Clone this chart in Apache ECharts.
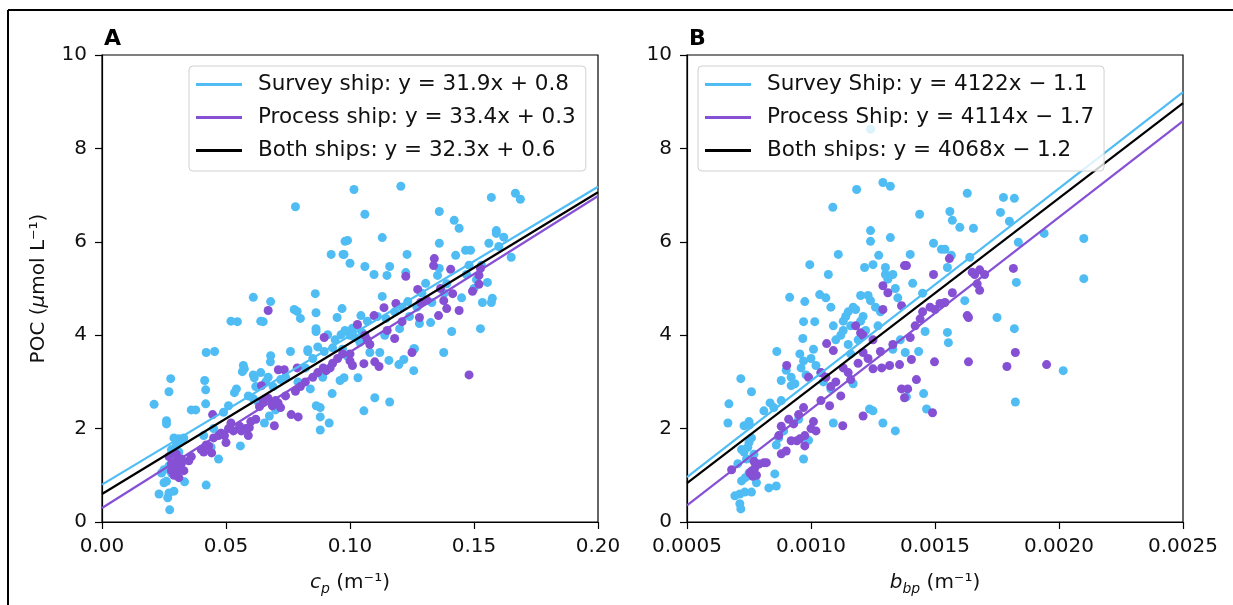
<!DOCTYPE html>
<html>
<head>
<meta charset="utf-8">
<script src="https://cdn.jsdelivr.net/npm/echarts@6/dist/echarts.min.js"></script>
<style>
  html, body { margin: 0; padding: 0; background: #fff; }
  #chart { width: 1233px; height: 605px; }
</style>
</head>
<body>
<div id="chart"></div>
<script>
// panel A: POC vs c_p
const surveyA = [
  [0.021,2.52],[0.023,0.60],[0.024,1.05],[0.025,0.84],[0.026,0.87],[0.0265,0.52],[0.027,0.62],[0.029,0.66],
  [0.0273,0.26],[0.026,2.17],[0.026,2.10],[0.027,2.79],[0.0277,3.07],[0.028,1.55],[0.029,1.80],[0.031,1.78],
  [0.032,1.74],[0.030,1.65],[0.033,1.80],[0.0333,0.86],[0.031,1.50],[0.027,1.20],[0.028,1.05],[0.025,1.12],
  [0.036,2.40],[0.0378,2.40],[0.0414,3.03],[0.0418,2.83],[0.042,3.63],[0.0454,3.65],[0.0418,2.53],[0.041,1.85],
  [0.042,0.79],[0.047,1.35],[0.044,1.60],[0.045,2.0],[0.049,2.35],[0.051,2.49],[0.048,1.9],[0.052,4.30],
  [0.0534,2.77],[0.0542,2.85],[0.0546,4.29],[0.0558,1.63],[0.057,3.35],[0.0574,3.28],[0.0566,3.22],[0.061,3.15],
  [0.0614,3.09],[0.061,2.64],[0.063,2.57],[0.061,4.81],[0.064,4.30],[0.065,4.29],[0.0655,2.12],[0.0675,2.27],
  [0.068,3.56],[0.0679,3.43],[0.068,4.72],[0.066,3.0],[0.067,3.1],[0.069,2.9],[0.070,2.4],[0.062,2.9],
  [0.059,2.7],[0.064,3.2],[0.072,3.05],[0.074,3.1],[0.0775,4.55],[0.078,6.75],[0.0787,4.51],[0.080,4.36],
  [0.076,3.65],[0.083,3.65],[0.083,3.69],[0.086,4.89],[0.0863,4.48],[0.0863,4.14],[0.0863,4.08],[0.0864,2.49],
  [0.088,2.45],[0.088,2.25],[0.088,1.97],[0.0916,2.12],[0.0896,3.65],[0.091,4.01],[0.0924,5.73],[0.0928,2.75],
  [0.093,3.73],[0.079,3.0],[0.082,3.3],[0.085,3.5],[0.087,3.75],[0.084,2.85],[0.089,3.1],[0.0948,4.38],
  [0.0968,4.57],[0.0964,4.01],[0.0972,5.73],[0.098,6.01],[0.0976,3.09],[0.096,3.03],[0.099,6.03],[0.0976,5.73],
  [0.100,5.54],[0.1016,7.12],[0.1032,3.09],[0.1044,4.42],[0.106,6.59],[0.106,5.47],[0.1056,2.38],[0.098,4.1],
  [0.100,4.0],[0.101,4.15],[0.102,3.95],[0.103,4.2],[0.104,3.85],[0.105,4.05],[0.108,3.63],[0.1097,5.30],
  [0.110,2.66],[0.107,4.3],[0.094,3.9],[0.097,3.7],[0.099,3.55],[0.112,3.63],[0.113,6.09],[0.113,4.83],
  [0.1145,4.36],[0.1149,5.28],[0.1157,3.46],[0.116,5.47],[0.116,2.57],[0.1197,3.37],[0.1205,7.19],[0.120,4.14],
  [0.1217,3.48],[0.1225,5.34],[0.1233,4.72],[0.123,5.73],[0.1257,3.71],[0.1257,3.24],[0.126,3.71],[0.128,4.25],
  [0.1305,5.11],[0.1325,4.27],[0.111,4.4],[0.114,4.0],[0.118,4.5],[0.121,4.6],[0.124,4.4],[0.127,4.6],
  [0.129,4.9],[0.1353,5.28],[0.136,6.65],[0.136,5.97],[0.136,5.43],[0.1378,3.63],[0.141,4.08],[0.142,6.46],
  [0.1426,5.71],[0.144,6.29],[0.1466,5.82],[0.1486,5.82],[0.147,5.30],[0.151,5.19],[0.1534,4.70],[0.1526,4.14],
  [0.1554,5.13],[0.156,5.97],[0.157,6.95],[0.1574,4.79],[0.157,4.70],[0.159,6.24],[0.159,6.18],[0.165,5.67],
  [0.1667,7.04],[0.1687,6.91],[0.133,4.7],[0.138,4.9],[0.139,5.1],[0.145,4.8],[0.148,5.5],[0.150,5.0],
  [0.153,5.5],[0.160,5.9],[0.162,6.1]
]
const processA = [
  [0.028,1.10],[0.029,1.00],[0.029,1.20],[0.030,1.30],[0.030,1.05],[0.031,1.15],[0.031,0.95],[0.032,1.25],
  [0.032,1.35],[0.033,1.10],[0.030,1.45],[0.028,1.25],[0.035,1.31],[0.036,1.40],[0.027,1.40],[0.040,1.55],
  [0.041,1.50],[0.042,1.65],[0.043,1.63],[0.0442,1.48],[0.0446,2.30],[0.045,1.80],[0.047,1.85],[0.048,1.90],
  [0.0494,1.85],[0.050,1.70],[0.051,2.0],[0.052,2.12],[0.053,1.95],[0.0555,2.05],[0.0562,1.95],[0.058,2.0],
  [0.0594,2.02],[0.059,1.85],[0.060,2.15],[0.062,2.20],[0.0635,2.47],[0.0643,2.92],[0.065,2.60],[0.067,2.65],
  [0.0687,2.49],[0.0695,2.06],[0.067,4.53],[0.070,2.60],[0.071,2.55],[0.072,2.45],[0.0711,3.26],[0.0735,3.26],
  [0.074,2.7],[0.0763,2.30],[0.0791,2.25],[0.0787,3.30],[0.078,2.8],[0.080,2.9],[0.082,3.0],[0.0892,3.30],
  [0.0904,3.24],[0.0896,3.95],[0.085,3.1],[0.087,3.2],[0.092,3.3],[0.093,3.4],[0.095,3.5],[0.097,3.6],
  [0.100,3.45],[0.100,3.6],[0.101,3.35],[0.103,4.23],[0.1056,3.39],[0.110,3.43],[0.1117,3.33],[0.1097,4.42],
  [0.1137,4.59],[0.1185,4.68],[0.118,3.93],[0.121,4.29],[0.125,3.63],[0.1225,5.26],[0.1273,4.98],[0.1285,4.70],
  [0.128,4.38],[0.131,4.75],[0.134,5.64],[0.1337,5.49],[0.1357,4.42],[0.1365,5.00],[0.1378,4.74],[0.139,4.57],
  [0.1406,5.41],[0.1414,4.89],[0.144,4.53],[0.148,3.15],[0.1494,4.94],[0.152,5.28],[0.152,5.09],[0.1526,5.43],
  [0.106,4.0],[0.108,3.8],[0.115,4.1],[0.107,3.9]
]
const fitNamesA = ['Survey ship: y = 31.9x + 0.8', 'Process ship: y = 33.4x + 0.3', 'Both ships: y = 32.3x + 0.6']
const fitSlopesA = [31.9, 33.4, 32.3]
const fitInterceptsA = [0.8, 0.3, 0.6]

// panel B: POC vs b_bp
const surveyB = [
  [0.000693,0.56],[0.000713,0.60],[0.000733,0.64],[0.00076,0.64],[0.000713,0.39],[0.000717,0.28],[0.00078,0.84],
  [0.00083,0.73],[0.00086,0.77],[0.000854,1.03],[0.000735,0.95],[0.00072,0.88],[0.00075,1.05],[0.000705,1.25],
  [0.00074,1.35],[0.00073,1.5],[0.000745,1.6],[0.00075,1.7],[0.00076,1.8],[0.00072,1.55],[0.00077,1.45],
  [0.000665,2.12],[0.000669,2.53],[0.00073,2.06],[0.00075,2.15],[0.000752,2.08],[0.000717,3.07],[0.00076,2.79],
  [0.00081,2.38],[0.000835,2.55],[0.00085,2.45],[0.00088,2.6],[0.00086,1.65],[0.00087,1.8],[0.00089,1.95],
  [0.000862,3.65],[0.00088,3.03],[0.00092,2.92],[0.000935,2.96],[0.0009,3.25],[0.00092,3.1],[0.000914,4.81],
  [0.000975,4.72],[0.000967,3.93],[0.00097,4.29],[0.000955,3.6],[0.00096,3.3],[0.00097,3.45],[0.00098,3.15],
  [0.00097,1.35],[0.00099,1.75],[0.00095,2.2],[0.000995,5.51],[0.001015,4.29],[0.001035,4.87],[0.001,3.5],
  [0.00101,3.7],[0.00102,3.35],[0.00104,3.2],[0.00105,3.0],[0.00109,4.2],[0.00109,2.12],[0.001088,6.74],
  [0.00111,5.73],[0.00108,2.85],[0.0011,3.9],[0.00112,4.0],[0.00113,4.1],[0.00113,4.3],[0.00114,4.4],
  [0.00115,4.5],[0.00115,3.8],[0.00116,4.2],[0.00116,3.6],[0.00117,4.6],[0.00117,2.96],[0.001184,7.12],
  [0.00118,4.55],[0.00119,3.9],[0.0012,4.85],[0.0012,4.3],[0.00121,4.4],[0.00122,4.1],[0.00123,4.85],
  [0.00124,4.74],[0.00124,6.24],[0.00124,6.01],[0.00124,8.41],[0.001236,2.42],[0.00125,2.38],[0.00125,5.51],
  [0.001216,5.45],[0.001273,5.71],[0.00129,7.27],[0.00132,7.19],[0.00132,6.09],[0.0013,5.45],[0.0013,5.30],
  [0.00126,4.6],[0.00127,4.2],[0.00128,4.5],[0.00129,2.12],[0.00134,1.95],[0.00131,5.2],[0.00133,5.3],
  [0.00134,5.0],[0.00135,4.8],[0.00133,3.7],[0.00136,3.9],[0.00138,3.63],[0.001385,2.68],[0.0014,5.73],
  [0.00141,5.11],[0.001438,6.59],[0.001434,3.65],[0.001454,2.75],[0.001466,2.42],[0.00146,4.08],[0.00145,4.9],
  [0.001494,5.97],[0.001526,5.84],[0.00154,5.84],[0.00155,5.45],[0.00155,4.06],[0.001554,3.84],[0.00156,6.65],
  [0.00157,6.46],[0.0016,6.31],[0.001566,5.71],[0.00163,7.04],[0.00164,5.67],[0.001655,6.29],[0.00162,4.74],
  [0.00175,4.38],[0.001764,6.63],[0.001776,6.95],[0.00182,6.93],[0.0018,6.44],[0.00182,4.14],[0.001836,5.99],
  [0.001828,5.13],[0.001824,2.57],[0.00194,6.18],[0.0021,6.07],[0.0021,5.21],[0.002017,3.24],[0.00106,4.8],
  [0.00108,4.6],[0.00107,5.3]
]
const processB = [
  [0.00068,1.12],[0.000754,1.05],[0.00076,1.09],[0.000774,1.16],[0.00079,1.24],[0.00081,1.27],[0.00082,1.27],
  [0.000765,0.98],[0.00077,1.3],[0.00078,1.0],[0.00088,1.46],[0.0009,1.52],[0.00092,1.74],[0.000943,1.74],
  [0.000955,1.78],[0.000975,1.85],[0.000975,1.63],[0.001,2.0],[0.00087,1.85],[0.00088,2.05],[0.00091,2.2],
  [0.00093,2.1],[0.00095,2.3],[0.00097,2.45],[0.000902,3.35],[0.00101,2.15],[0.00102,1.95],[0.00104,2.6],
  [0.001075,2.49],[0.001128,2.06],[0.00112,2.7],[0.001063,3.82],[0.00109,3.67],[0.00104,3.2],[0.00106,3.1],
  [0.00108,2.9],[0.0011,3.0],[0.00113,3.3],[0.00115,3.2],[0.00118,4.2],[0.0012,4.05],[0.00121,4.0],
  [0.00121,3.63],[0.00121,2.27],[0.00125,3.28],[0.001285,3.30],[0.001317,3.35],[0.001357,3.37],[0.001365,2.85],
  [0.001377,2.66],[0.00139,2.85],[0.001405,3.48],[0.0014,3.95],[0.001425,3.05],[0.00149,2.34],[0.001498,3.43],
  [0.001635,3.43],[0.001635,4.38],[0.001824,3.63],[0.00179,3.33],[0.00195,3.37],[0.00129,5.06],[0.00131,4.91],
  [0.001365,4.63],[0.00129,4.55],[0.001377,5.49],[0.001385,5.49],[0.001494,5.30],[0.001558,5.64],[0.00157,4.91],
  [0.00163,4.42],[0.00165,5.35],[0.00166,5.3],[0.00168,5.4],[0.0017,5.3],[0.00167,5.1],[0.00168,4.96],
  [0.001816,5.43],[0.00145,4.5],[0.00148,4.6],[0.0015,4.55],[0.00152,4.68],[0.00154,4.7],[0.00144,4.35],
  [0.00142,4.2],[0.00133,3.8],[0.00128,3.65],[0.00125,3.9],[0.00123,3.5],[0.00119,3.4],[0.00116,3.05],
  [0.00099,3.1]
]
const fitNamesB = ['Survey Ship: y = 4122x \u2212 1.1', 'Process Ship: y = 4114x \u2212 1.7', 'Both ships: y = 4068x \u2212 1.2']
const fitSlopesB = [4122, 4114, 4068]
const fitInterceptsB = [-1.1, -1.7, -1.2]

const xTicksA = [0, 0.05, 0.1, 0.15, 0.2]
const xTicksB = [0.0005, 0.001, 0.0015, 0.002, 0.0025]
const yTicks = [0, 2, 4, 6, 8, 10]

const blue = '#4fbdf4'
const purple = '#8650d4'
const lineColors = [blue, purple, '#000']
const font = 'DejaVu Sans'

const chart = echarts.init(document.getElementById('chart'))

function fitLine(name, slope, icpt, x0, x1, idx, color) {
  return {
    name: name,
    type: 'line',
    xAxisIndex: idx,
    yAxisIndex: idx,
    data: [[x0, slope * x0 + icpt], [x1, slope * x1 + icpt]],
    symbol: 'none',
    lineStyle: { color: color, width: 2.2 },
    itemStyle: { color: color },
    silent: true,
    z: 3
  }
}

function dots(data, idx, color) {
  return {
    type: 'scatter',
    xAxisIndex: idx,
    yAxisIndex: idx,
    data: data,
    symbolSize: 9,
    itemStyle: { color: color, opacity: 1 },
    z: 2
  }
}

const axisCommon = {
  axisLine: { onZero: false, lineStyle: { color: '#000', width: 1.2 } },
  axisTick: { length: 7, lineStyle: { color: '#000', width: 1.2 } },
  splitLine: { show: false },
  axisLabel: { color: '#111', fontSize: 20, fontFamily: font, margin: 15 }
}

function xAxis(idx, ticks, digits, nameRich) {
  return Object.assign({}, axisCommon, {
    type: 'value',
    gridIndex: idx,
    min: ticks[0],
    max: ticks[ticks.length - 1],
    interval: ticks[1] - ticks[0],
    axisLabel: Object.assign({}, axisCommon.axisLabel, {
      formatter: v => v.toFixed(digits)
    }),
    name: nameRich,
    nameLocation: 'middle',
    nameGap: 48,
    nameTextStyle: {
      color: '#111', fontSize: 20, fontFamily: font,
      rich: {
        i: { fontSize: 20, fontStyle: 'italic', fontFamily: font, color: '#111' },
        s: { fontSize: 14, fontStyle: 'italic', fontFamily: font, color: '#111', padding: [12, 0, 0, 0] },
        n: { fontSize: 20, fontFamily: font, color: '#111' }
      }
    }
  })
}

function yAxis(idx, withName) {
  return Object.assign({}, axisCommon, {
    type: 'value',
    gridIndex: idx,
    min: yTicks[0],
    max: yTicks[yTicks.length - 1],
    interval: yTicks[1] - yTicks[0],
    name: withName ? '{n|POC (}{i|\u03bc}{n|mol L\u207b\u00b9)}' : '',
    nameLocation: 'middle',
    nameGap: 53,
    nameTextStyle: {
      color: '#111', fontSize: 20, fontFamily: font,
      rich: {
        i: { fontSize: 20, fontStyle: 'italic', fontFamily: font, color: '#111' },
        n: { fontSize: 20, fontFamily: font, color: '#111' }
      }
    }
  })
}

function legend(left, names) {
  return {
    orient: 'vertical',
    left: left,
    top: 66,
    data: names.map(n => ({ name: n, icon: 'rect' })),
    itemWidth: 46,
    itemHeight: 3,
    itemGap: 10,
    padding: [7, 10, 9, 7],
    backgroundColor: 'rgba(255,255,255,0.8)',
    borderColor: '#d0d0d0',
    borderWidth: 1,
    borderRadius: 4,
    selectedMode: false,
    z: 10,
    textStyle: { fontSize: 21.5, fontFamily: font, color: '#111', lineHeight: 23, padding: [0, 0, 0, 11] }
  }
}

const series = [
  dots(surveyA, 0, blue),
  dots(processA, 0, purple),
  dots(surveyB, 1, blue),
  dots(processB, 1, purple)
]
for (let i = 0; i < 3; i++) {
  series.push(fitLine(fitNamesA[i], fitSlopesA[i], fitInterceptsA[i], xTicksA[0], xTicksA[4], 0, lineColors[i]))
}
for (let i = 0; i < 3; i++) {
  series.push(fitLine(fitNamesB[i], fitSlopesB[i], fitInterceptsB[i], xTicksB[0], xTicksB[4], 1, lineColors[i]))
}

const option = {
  animation: false,
  backgroundColor: '#fff',
  textStyle: { fontFamily: font },
  grid: [
    { left: 102, top: 55, width: 496, height: 467, show: true, borderColor: '#000', borderWidth: 1.2, backgroundColor: 'transparent' },
    { left: 687, top: 55, width: 496, height: 467, show: true, borderColor: '#000', borderWidth: 1.2, backgroundColor: 'transparent' }
  ],
  xAxis: [
    xAxis(0, xTicksA, 2, '{i|c}{s|p}{n| (m\u207b\u00b9)}'),
    xAxis(1, xTicksB, 4, '{i|b}{s|bp}{n| (m\u207b\u00b9)}')
  ],
  yAxis: [yAxis(0, true), yAxis(1, false)],
  legend: [legend(189, fitNamesA), legend(698, fitNamesB)],
  graphic: [
    // outer frame: only the top and left edges are visible in the figure
    { type: 'line', shape: { x1: 8, y1: 10, x2: 1233, y2: 10 }, style: { stroke: '#000', lineWidth: 2 }, silent: true },
    { type: 'line', shape: { x1: 8, y1: 10, x2: 8, y2: 605 }, style: { stroke: '#000', lineWidth: 2 }, silent: true },
    { type: 'text', left: 104, top: 28, style: { text: 'A', font: 'bold 22px "DejaVu Sans"', fill: '#000' } },
    { type: 'text', left: 689, top: 28, style: { text: 'B', font: 'bold 22px "DejaVu Sans"', fill: '#000' } }
  ],
  series: series
}

chart.setOption(option)
</script>
</body>
</html>
